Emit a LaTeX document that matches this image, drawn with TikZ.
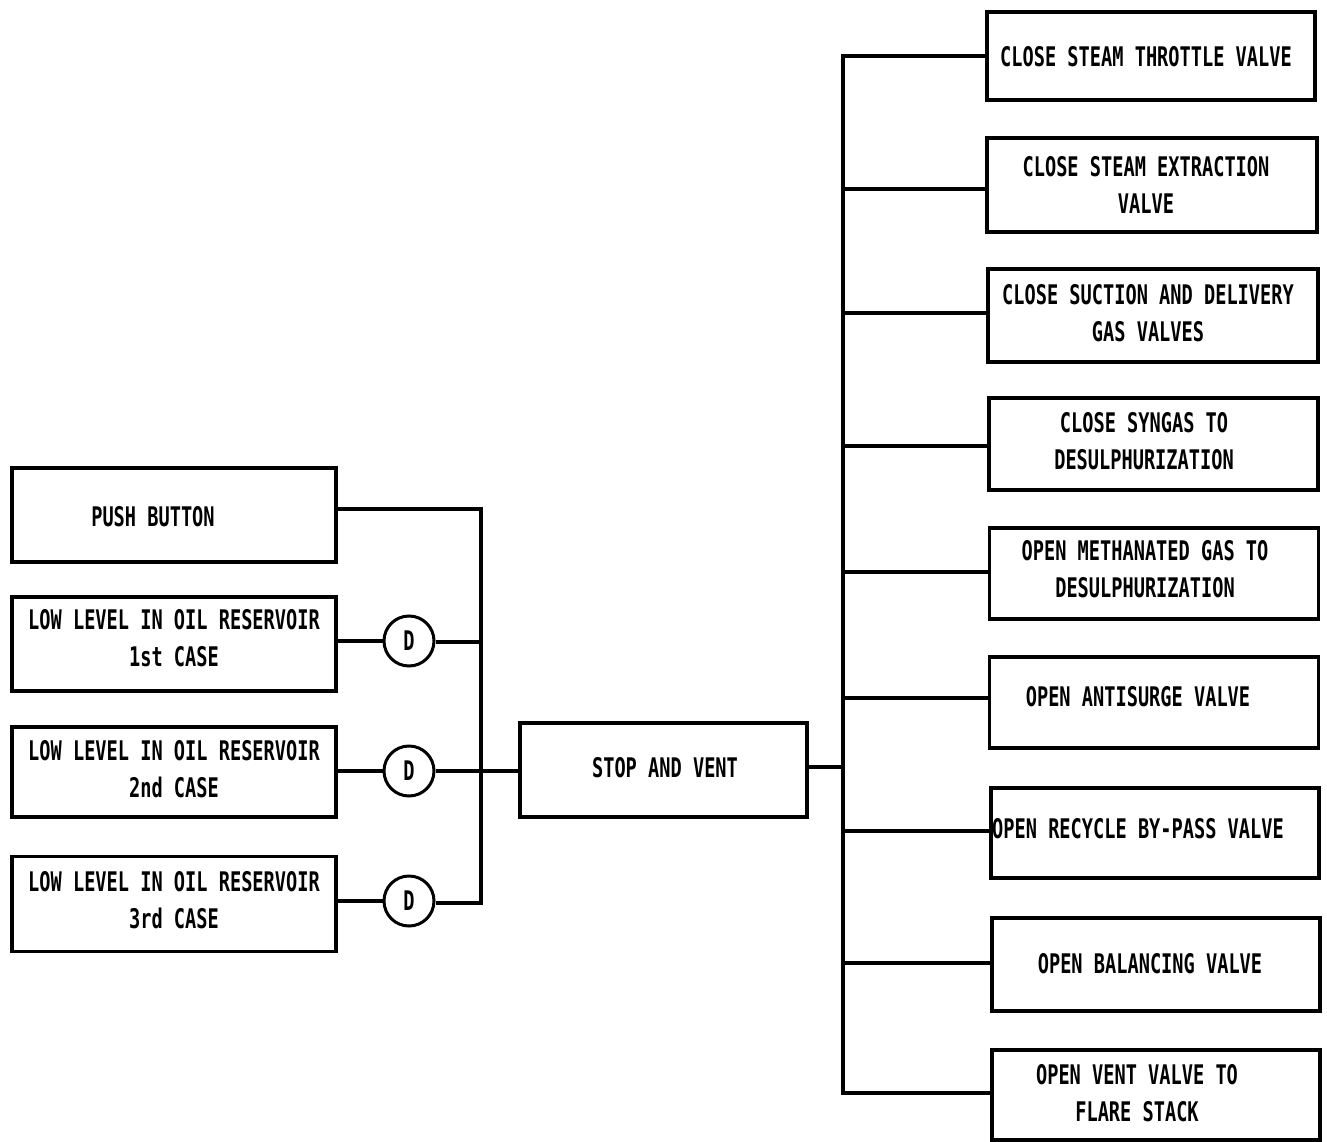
\documentclass[tikz,border=0pt]{standalone}
\usepackage{fontspec}
\newfontfamily\lblfont[FakeStretch=0.69]{DejaVu Sans Mono Bold}
\begin{document}
\begin{tikzpicture}[x=1pt,y=-1pt,
  box/.style={draw,line width=3.2pt,rectangle,inner sep=0pt},
  lbl/.style={font=\lblfont\fontsize{27}{37}\selectfont,align=center,inner sep=0pt},
  dcirc/.style={draw,line width=3pt,circle,minimum size=50pt,inner sep=0pt,font=\lblfont\fontsize{27}{37}\selectfont},
  wire/.style={line width=3.2pt}]
\useasboundingbox[fill=white] (0,0) rectangle (1327,1142);
% left boxes
\node[box,minimum width=324pt,minimum height=94pt] (pb) at (174,515) {};
\node[box,minimum width=324pt,minimum height=94pt] (l1) at (174,644) {};
\node[box,minimum width=324pt,minimum height=90pt] (l2) at (174,772) {};
\node[box,minimum width=324pt,minimum height=95pt] (l3) at (174,904) {};
\node[lbl] (tpb) at (153,517) {PUSH BUTTON};
\node[lbl] (tl1) at (174,638.5) {LOW LEVEL IN OIL RESERVOIR\\1st CASE};
\node[lbl] (tl2) at (174,769.5) {LOW LEVEL IN OIL RESERVOIR\\2nd CASE};
\node[lbl] (tl3) at (174,900) {LOW LEVEL IN OIL RESERVOIR\\3rd CASE};
% delay circles
\node[dcirc] (d1) at (409,641) {D};
\node[dcirc] (d2) at (409,771) {D};
\node[dcirc] (d3) at (409,901) {D};
% stop and vent
\node[box,minimum width=287pt,minimum height=94pt] (sv) at (663.5,770) {};
\node[lbl] (tsv) at (665,768) {STOP AND VENT};
% bus coordinates
\coordinate (lb1) at (481,509);
\coordinate (lb2) at (481,642);
\coordinate (lb3) at (481,771);
\coordinate (lb4) at (481,903);
\coordinate (rbc) at (843,767);
% right boxes
\node[box,minimum width=328pt,minimum height=88pt] (r1) at (1151,56) {};
\node[box,minimum width=330pt,minimum height=94pt] (r2) at (1152,185) {};
\node[box,minimum width=330pt,minimum height=93pt] (r3) at (1153,315.5) {};
\node[box,minimum width=329pt,minimum height=92pt] (r4) at (1153.5,444) {};
\node[box,minimum width=329pt,minimum height=91pt] (r5) at (1154,573.5) {};
\node[box,minimum width=329pt,minimum height=91pt] (r6) at (1154,702.5) {};
\node[box,minimum width=328pt,minimum height=90pt] (r7) at (1155,833) {};
\node[box,minimum width=328pt,minimum height=93pt] (r8) at (1156,964.5) {};
\node[box,minimum width=328pt,minimum height=90pt] (r9) at (1156,1095) {};
\node[lbl] (t1) at (1146,57) {CLOSE STEAM THROTTLE VALVE};
\node[lbl] (t2) at (1146,185) {CLOSE STEAM EXTRACTION\\VALVE};
\node[lbl] (t3) at (1148,313) {CLOSE SUCTION AND DELIVERY\\GAS VALVES};
\node[lbl] (t4) at (1144,441) {CLOSE SYNGAS TO\\DESULPHURIZATION};
\node[lbl] (t5) at (1145,569) {OPEN METHANATED GAS TO\\DESULPHURIZATION};
\node[lbl] (t6) at (1138,697) {OPEN ANTISURGE VALVE};
\node[lbl] (t7) at (1138,829) {OPEN RECYCLE BY-PASS VALVE};
\node[lbl] (t8) at (1150,964) {OPEN BALANCING VALVE};
\node[lbl] (t9) at (1137,1093.5) {OPEN VENT VALVE TO\\FLARE STACK};
\coordinate (rb1) at (843,56);
\coordinate (rb2) at (843,189);
\coordinate (rb3) at (843,313);
\coordinate (rb4) at (843,446);
\coordinate (rb5) at (843,572);
\coordinate (rb6) at (843,698);
\coordinate (rb7) at (843,831);
\coordinate (rb8) at (843,963);
\coordinate (rb9) at (843,1093);
% left wiring
\draw[wire] (pb.east |- lb1) -- (lb1) -- (lb4) -- (d3.east |- lb4);
\draw[wire] (l1.east |- d1) -- (d1.west);
\draw[wire] (d1.east |- lb2) -- (lb2);
\draw[wire] (l2.east |- d2) -- (d2.west);
\draw[wire] (d2.east |- lb3) -- (lb3) -- (sv.west |- lb3);
\draw[wire] (l3.east |- d3) -- (d3.west);
% right wiring
\draw[wire] (sv.east |- rbc) -- (rbc);
\draw[wire] (r1.west |- rb1) -- (rb1) -- (rb9) -- (r9.west |- rb9);
\foreach \i in {2,...,8} {\draw[wire] (rb\i) -- (r\i.west |- rb\i);}
\end{tikzpicture}
\end{document}
